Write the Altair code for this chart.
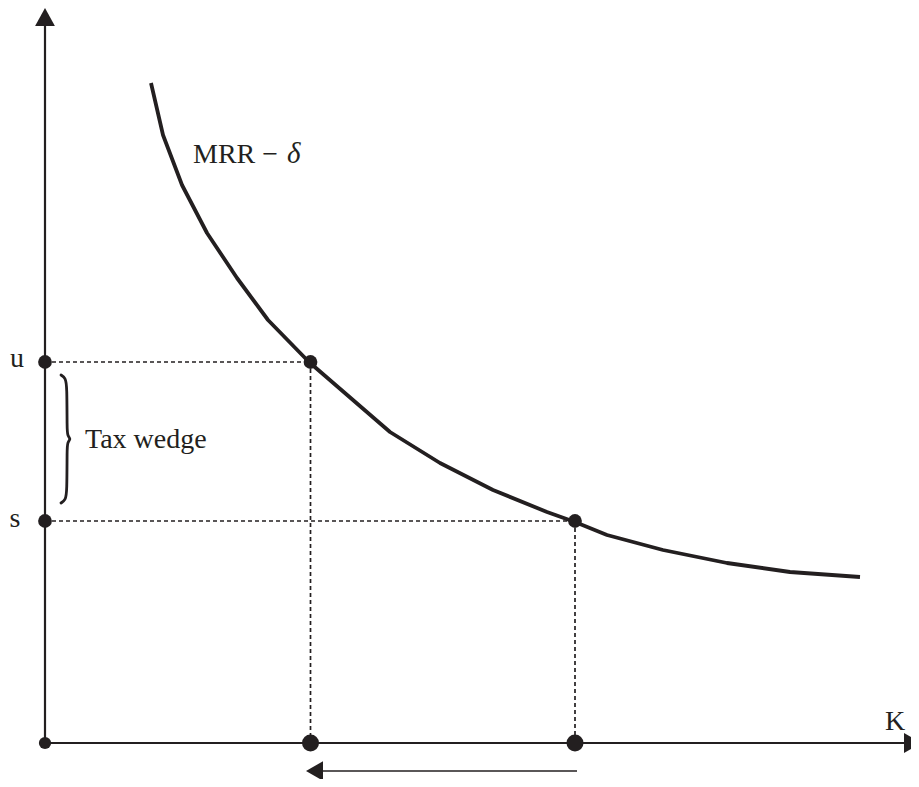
import altair as alt
import pandas as pd

INK = "#231f20"
FONT = "Liberation Serif"

# ---- data (chart units: K on x, rate on y) ----
curve_k = [1.06, 1.18, 1.37, 1.62, 1.92, 2.23, 2.64, 3.45, 3.95, 4.48, 5.02, 5.30, 5.62, 6.18, 6.82, 7.45, 8.15]
curve_r = [6.60, 6.08, 5.58, 5.10, 4.65, 4.23, 3.81, 3.11, 2.80, 2.53, 2.31, 2.21, 2.08, 1.93, 1.80, 1.71, 1.66]

K_levels = [2.655, 5.30]      # capital stock with / without tax
rates = [3.81, 2.22]          # u (pre-tax) and s (post-tax) returns
rate_labels = ["u", "s"]

brace_x = [0.16, 0.205, 0.22, 0.22, 0.225, 0.26, 0.225, 0.22, 0.22, 0.205, 0.16]
brace_y = [3.68, 3.65, 3.57, 3.14, 3.07, 3.04, 3.01, 2.94, 2.51, 2.43, 2.40]

X_DOM = [-0.37, 8.66]
Y_DOM = [-0.36, 7.35]
W, H = 903, 771

xs = alt.Scale(domain=X_DOM, nice=False, zero=False)
ys = alt.Scale(domain=Y_DOM, nice=False, zero=False)


def X(f="x"):
    return alt.X(f"{f}:Q", scale=xs, axis=None)


def Y(f="y"):
    return alt.Y(f"{f}:Q", scale=ys, axis=None)


# curve
curve_df = pd.DataFrame({"x": curve_k, "y": curve_r, "o": range(len(curve_k))})
curve = alt.Chart(curve_df).mark_line(color=INK, strokeWidth=3.8, strokeJoin="round").encode(
    x=X(), y=Y(), order="o:Q"
)

# axes
axes_df = pd.DataFrame({"x": [0.0, 0.0], "y": [0.0, 0.0], "x2": [0.0, 8.60], "y2": [7.17, 0.0]})
axes = alt.Chart(axes_df).mark_rule(color=INK, strokeWidth=2.2).encode(
    x=X(), y=Y(), x2="x2:Q", y2="y2:Q"
)

# dashed guides
dash_df = pd.DataFrame({
    "x": [0.0, K_levels[0], 0.0, K_levels[1]],
    "y": [rates[0], rates[0], rates[1], rates[1]],
    "x2": [K_levels[0], K_levels[0], K_levels[1], K_levels[1]],
    "y2": [rates[0], 0.0, rates[1], 0.0],
})
dashes = alt.Chart(dash_df).mark_rule(color=INK, strokeWidth=1.7, strokeDash=[4, 3]).encode(
    x=X(), y=Y(), x2="x2:Q", y2="y2:Q"
)

# dots
small_df = pd.DataFrame({
    "x": [0.0, 0.0, K_levels[0], K_levels[1]],
    "y": [rates[0], rates[1], rates[0], rates[1]],
})
small_dots = alt.Chart(small_df).mark_circle(color=INK, opacity=1, size=190).encode(x=X(), y=Y())

big_df = pd.DataFrame({"x": K_levels, "y": [0.0, 0.0]})
big_dots = alt.Chart(big_df).mark_circle(color=INK, opacity=1, size=290).encode(x=X(), y=Y())

origin_df = pd.DataFrame({"x": [0.0], "y": [0.0]})
origin_dot = alt.Chart(origin_df).mark_circle(color=INK, opacity=1, size=150).encode(x=X(), y=Y())

# arrowheads
up_df = pd.DataFrame({"x": [0.0], "y": [7.26]})
up_arrow = alt.Chart(up_df).mark_point(
    shape="M0,-1L1.1,1L-1.1,1Z", filled=True, color=INK, opacity=1, size=324, strokeWidth=0
).encode(x=X(), y=Y())

right_df = pd.DataFrame({"x": [8.68], "y": [0.0]})
right_arrow = alt.Chart(right_df).mark_point(
    shape="M1,0L-1,-1.1L-1,1.1Z", filled=True, color=INK, opacity=1, size=324, strokeWidth=0
).encode(x=X(), y=Y())

# bottom arrow (direction of change in K)
shift_y = -0.28
shift_df = pd.DataFrame({"x": [2.78], "y": [shift_y], "x2": [K_levels[1] + 0.02]})
shift_line = alt.Chart(shift_df).mark_rule(color=INK, strokeWidth=1.6).encode(
    x=X(), y=Y(), x2="x2:Q"
)
left_df = pd.DataFrame({"x": [2.695], "y": [shift_y]})
left_arrow = alt.Chart(left_df).mark_point(
    shape="M-1,0L1,-1.15L1,1.15Z", filled=True, color=INK, opacity=1, size=289, strokeWidth=0
).encode(x=X(), y=Y())

# brace
brace_df = pd.DataFrame({"x": brace_x, "y": brace_y, "o": range(len(brace_x))})
brace = alt.Chart(brace_df).mark_line(
    color=INK, strokeWidth=2.8, interpolate="basis", strokeCap="round"
).encode(x=X(), y=Y(), order="o:Q")

# text labels
rate_txt_df = pd.DataFrame({"x": [-0.28, -0.30], "y": [rates[0] - 0.05, rates[1] - 0.06], "t": rate_labels})
rate_txt = alt.Chart(rate_txt_df).mark_text(
    font=FONT, fontSize=28, color=INK, align="center", baseline="alphabetic"
).encode(x=X(), y=Y(), text="t:N")

misc_df = pd.DataFrame({
    "x": [0.40, 1.48, 8.40],
    "y": [2.95, 5.80, 0.13],
    "t": ["Tax wedge", "MRR \u2212", "K"],
})
misc_txt = alt.Chart(misc_df).mark_text(
    font=FONT, fontSize=28, color=INK, align="left", baseline="alphabetic"
).encode(x=X(), y=Y(), text="t:N")

delta_df = pd.DataFrame({"x": [2.42], "y": [5.80], "t": ["\u03b4"]})
delta_txt = alt.Chart(delta_df).mark_text(
    font=FONT, fontSize=29, fontStyle="italic", color=INK, align="left", baseline="alphabetic"
).encode(x=X(), y=Y(), text="t:N")

chart = alt.layer(
    dashes, axes, curve, brace, shift_line,
    up_arrow, right_arrow, left_arrow,
    small_dots, big_dots, origin_dot,
    rate_txt, misc_txt, delta_txt,
).properties(
    width=W, height=H, padding=0, background="white",
    autosize=alt.AutoSizeParams(type="none"),
).configure_view(stroke=None)

chart.save("out.html", embed_options={"renderer": "svg", "actions": False})
